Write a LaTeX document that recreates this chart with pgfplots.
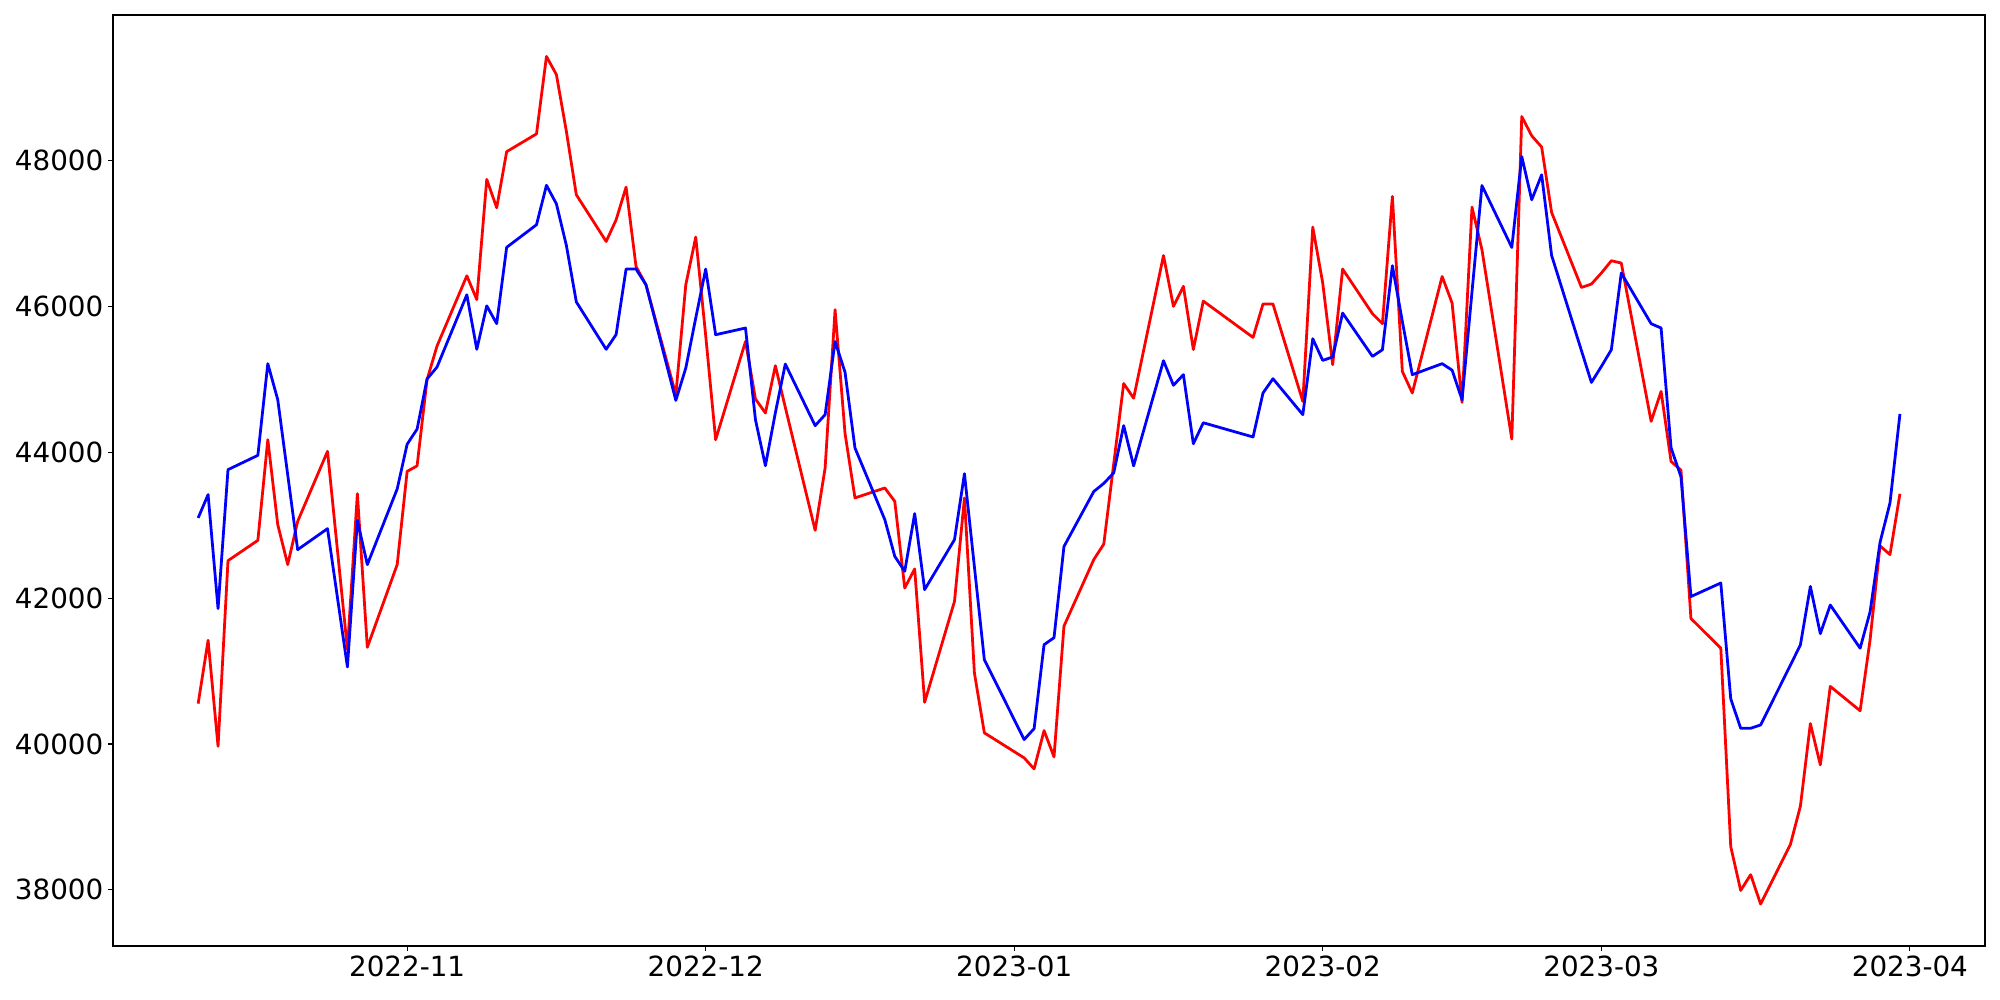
\documentclass[border=0pt]{standalone}
\usepackage{pgfplots}
\usepackage{pgfplotstable}
\pgfplotsset{compat=1.18}
\usepackage{fontspec}
\setmainfont{DejaVu Sans}

% x = days since 2022-10-01
\pgfplotstableread{
x y
10 40553
11 41421
12 39968
13 42513
16 42792
17 44172
18 43007
19 42459
20 43052
23 44012
25 41294
26 43432
27 41325
30 42459
31 43737
32 43813
33 44994
34 45455
37 46419
38 46093
39 47741
40 47352
41 48121
44 48365
45 49427
46 49177
47 48400
48 47530
51 46890
52 47187
53 47635
54 46547
55 46296
58 44789
59 46296
60 46950
61 45600
62 44172
65 45519
66 44730
67 44538
68 45186
69 44615
72 42929
73 43784
74 45954
75 44258
76 43373
79 43510
80 43326
81 42139
82 42400
83 40571
86 41956
87 43373
88 40974
89 40152
93 39809
94 39658
95 40183
96 39822
97 41616
100 42529
101 42740
102 43843
103 44942
104 44741
107 46697
108 46000
109 46274
110 45408
111 46072
116 45574
117 46032
118 46032
121 44697
122 47087
123 46320
124 45200
125 46511
128 45899
129 45762
130 47507
131 45108
132 44812
135 46410
136 46045
137 44683
138 47361
139 46776
142 44181
143 48603
144 48339
145 48184
146 47287
149 46259
150 46306
151 46457
152 46625
153 46594
156 44423
157 44834
158 43874
159 43754
160 41720
163 41313
164 38592
165 37991
166 38208
167 37805
170 38625
171 39148
172 40279
173 39713
174 40789
177 40455
178 41428
179 42716
180 42596
181 43430
}\redtable

\pgfplotstableread{
x y
10 43099
11 43419
12 41856
13 43761
16 43957
17 45214
18 44720
19 43691
20 42664
23 42952
25 41056
26 43066
27 42459
30 43496
31 44110
32 44316
33 45004
34 45167
37 46159
38 45411
39 46007
40 45763
41 46809
44 47119
45 47660
46 47405
47 46836
48 46061
51 45411
52 45614
53 46511
54 46511
55 46296
58 44711
59 45154
60 45840
61 46511
62 45611
65 45703
66 44446
67 43815
68 44540
69 45209
72 44364
73 44515
74 45518
75 45098
76 44058
79 43075
80 42572
81 42367
82 43158
83 42116
86 42801
87 43706
88 42430
89 41156
93 40060
94 40210
95 41361
96 41457
97 42707
100 43462
101 43572
102 43717
103 44365
104 43813
107 45255
108 44918
109 45063
110 44116
111 44404
116 44209
117 44812
118 45008
121 44515
122 45556
123 45259
124 45305
125 45908
128 45314
129 45405
130 46557
131 45793
132 45063
135 45214
136 45125
137 44720
138 46200
139 47657
142 46808
143 48055
144 47461
145 47804
146 46698
149 45392
150 44957
151 45176
152 45405
153 46457
156 45762
157 45703
158 44061
159 43662
160 42021
163 42207
164 40618
165 40215
166 40215
167 40260
170 41081
171 41359
172 42160
173 41512
174 41905
177 41313
178 41811
179 42763
180 43304
181 44524
}\bluetable

\begin{document}
\begin{tikzpicture}
\useasboundingbox (-81.4pt,-38.9pt) rectangle (1358.6pt,681.1pt);
\begin{axis}[
  at={(0pt,0pt)}, anchor=south west,
  width=1347.8pt, height=670.3pt, scale only axis,
  xmin=1.45, xmax=189.55, ymin=37230, ymax=49995,
  xtick={31,61,92,123,151,182},
  xticklabels={2022-11,2022-12,2023-01,2023-02,2023-03,2023-04},
  ytick={38000,40000,42000,44000,46000,48000},
  scaled y ticks=false,
  yticklabel style={/pgf/number format/.cd, fixed, 1000 sep={}, assume math mode=true},
  tick label style={font=\fontsize{20}{24}\selectfont},
  tick align=outside, major tick length=3.5pt,
  tick pos=left,
  every tick/.style={black, line width=0.8pt},
  axis line style={line width=0.8pt, black},
  clip=true,
]
\addplot[red, line width=2pt, line join=round, mark=none] table[x=x,y=y] {\redtable};
\addplot[blue, line width=2pt, line join=round, mark=none] table[x=x,y=y] {\bluetable};
\end{axis}
\end{tikzpicture}
\end{document}
